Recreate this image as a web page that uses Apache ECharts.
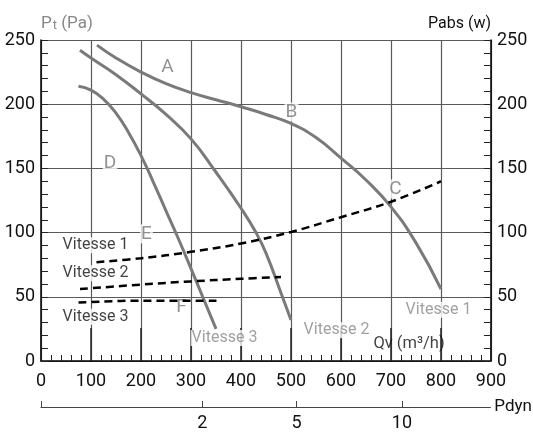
<!DOCTYPE html>
<html><head><meta charset="utf-8">
<script src="https://cdn.jsdelivr.net/npm/echarts@6/dist/echarts.min.js"></script>
<style>html,body{margin:0;padding:0;background:#fff}#c{width:533px;height:434px}</style>
</head><body><div id="c"></div>
<script>
// Pressure curves (Pt, Pa) vs Qv (m3/h)
const v1Q = [112,150,200,250,300,350,400,450,500,550,600,650,700,750,800];
const v1P = [246,236,225,216,209,203.5,198,192,185,174,158,141,120,92,56];
const v2Q = [78,100,150,200,250,300,350,400,430,450,480,500];
const v2P = [242,236,223,208,192,173,147,119,100,84,53,32];
const v3Q = [75,100,125,150,175,200,225,250,275,300,325,350];
const v3P = [214,211,204,193,178,160,139,117,95,72,48.5,25];
// Power curves (Pabs, W) vs Qv
const w1Q = [111,200,300,400,500,600,700,800];
const w1P = [77,80,85,91.5,100.5,112,124,140];
const w2Q = [78,200,300,400,480];
const w2P = [56,59.5,62,64,65.5];
const w3Q = [75,200,360];
const w3P = [45.5,47,47];
// Letter markers
const letterNames = ['A','B','C','D','E','F'];
const letterQ = [253,501,709,138,211,281];
const letterP = [229,194,134,154,99,41.6];
// Speed labels
const speedNames = ['Vitesse 1','Vitesse 2','Vitesse 3'];
const speedLeftQ = [109,109,109];
const speedLeftP = [90.2,68.4,34.4];
const speedEndQ = [795,591,367];
const speedEndP = [40,24,18];
// Axis ticks
const qTicks = [0,100,200,300,400,500,600,700,800,900];
const pdynLabels = ['2','5','10'];
const pdynPos = [323,512,723];

const FONT = "Roboto, 'Liberation Sans', sans-serif";
const GRIDC = '#5a5a5a';
const CURVE = '#7a7a7a';
const zip = (a,b) => a.map((v,i)=>[v,b[i]]);

const chart = echarts.init(document.getElementById('c'), null, {renderer:'canvas'});
const curve = (q,p) => ({type:'line', xAxisIndex:0, yAxisIndex:0, data:zip(q,p), smooth:0.5, showSymbol:false, z:3,
  lineStyle:{color:CURVE, width:3}});
const dashed = (q,p) => ({type:'line', xAxisIndex:0, yAxisIndex:1, data:zip(q,p), smooth:0.4, showSymbol:false, z:3,
  lineStyle:{color:'#000', width:2.5, type:[8,5]}});
const labelSeries = (names,q,p,color,size) => ({type:'scatter', xAxisIndex:0, yAxisIndex:0, symbolSize:0, z:1, silent:true,
  data: names.map((n,i)=>({name:n, value:[q[i],p[i]]})),
  label:{show:true, position:'inside', formatter:'{b}', color:color, fontFamily:FONT, fontSize:size,
    backgroundColor:'#fff', padding:[0,1]}});

chart.setOption({
  animation:false,
  textStyle:{fontFamily:FONT},
  grid:[{left:41, right:42, top:40, bottom:73},
        {left:41, right:42, top:397, height:10}],
  xAxis:[{type:'value', gridIndex:0, min:0, max:900, interval:100,
    axisLine:{show:true, lineStyle:{color:'#000', width:1.5}},
    axisTick:{show:true, inside:true, length:33, lineStyle:{color:'#222', width:1.5}},
    minorTick:{show:true, splitNumber:5, length:6, lineStyle:{color:'#222', width:1}},
    splitLine:{show:true, lineStyle:{color:GRIDC, width:1.2}},
    axisLabel:{color:'#111', fontSize:18, fontFamily:FONT, margin:11}},
   {type:'value', gridIndex:1, min:0, max:900, position:'bottom',
    name:'Pdyn', nameLocation:'end', nameGap:4, nameTextStyle:{color:'#111', fontSize:17, fontFamily:FONT},
    axisLine:{show:true, lineStyle:{color:'#444', width:1.2}},
    axisTick:{show:true, inside:true, length:6, customValues:[0].concat(pdynPos), lineStyle:{color:'#444'}},
    splitLine:{show:false},
    axisLabel:{color:'#111', fontSize:18, fontFamily:FONT, margin:7, customValues:pdynPos,
      formatter:(v)=>{const i=pdynPos.indexOf(v); return i>=0?pdynLabels[i]:'';}}}],
  yAxis:[{type:'value', gridIndex:0, min:0, max:250, interval:50, position:'left',
    name:'{p|P}{s|t}{p| (Pa)}', nameLocation:'end', nameGap:8,
    nameTextStyle:{align:'left', verticalAlign:'bottom', padding:[0,0,0,0],
      rich:{p:{color:'#888', fontSize:17, fontFamily:FONT, verticalAlign:'bottom'},
            s:{color:'#888', fontSize:13, fontFamily:FONT, verticalAlign:'top', padding:[8,0,0,1]}}},
    axisLine:{show:true, lineStyle:{color:'#000', width:1.5}},
    axisTick:{show:true, inside:true, length:7, lineStyle:{color:'#222'}},
    minorTick:{show:true, splitNumber:5, length:7, lineStyle:{color:'#222'}},
    splitLine:{show:true, lineStyle:{color:GRIDC, width:1.2}},
    axisLabel:{color:'#111', fontSize:18, fontFamily:FONT, margin:6}},
   {type:'value', gridIndex:0, min:0, max:250, interval:50, position:'right',
    name:'Pabs (w)', nameLocation:'end', nameGap:8,
    nameTextStyle:{align:'right', color:'#111', fontSize:16, fontFamily:FONT},
    axisLine:{show:true, lineStyle:{color:'#000', width:1.5}},
    axisTick:{show:true, inside:true, length:7, lineStyle:{color:'#222'}},
    minorTick:{show:true, splitNumber:5, length:7, lineStyle:{color:'#222'}},
    splitLine:{show:false},
    axisLabel:{color:'#111', fontSize:18, fontFamily:FONT, margin:6}},
   {type:'value', gridIndex:1, show:false, min:0, max:1}],
  series:[
    curve(v1Q,v1P), curve(v2Q,v2P), curve(v3Q,v3P),
    dashed(w1Q,w1P), dashed(w2Q,w2P), dashed(w3Q,w3P),
    labelSeries(letterNames, letterQ, letterP, '#777', 19),
    labelSeries(speedNames, speedLeftQ, speedLeftP, '#111', 16),
    labelSeries(speedNames, speedEndQ, speedEndP, '#888', 16),
    {type:'scatter', xAxisIndex:0, yAxisIndex:0, symbolSize:0, z:1, silent:true,
     data:[{name:'Qv (m³/h)', value:[736,13]}],
     label:{show:true, position:'inside', formatter:'{b}', color:'#111', fontFamily:FONT, fontSize:16.5}}
  ]
});
</script></body></html>
